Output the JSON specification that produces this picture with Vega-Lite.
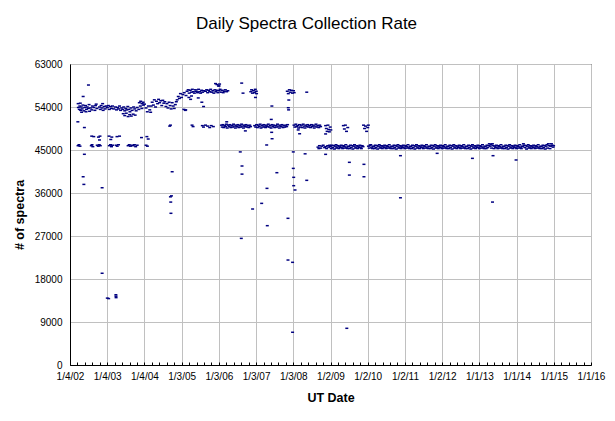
{
"$schema": "https://vega.github.io/schema/vega-lite/v6.json",
"width": 521,
"height": 301,
"autosize": {"type": "none"},
"padding": {"left": 70, "top": 64, "right": 24, "bottom": 56},
"background": "white",
"config": {"font": "Liberation Sans", "view": {"stroke": "black", "strokeWidth": 1}},
"title": {"text": "Daily Spectra Collection Rate", "fontSize": 17, "fontWeight": "normal", "font": "Liberation Sans", "color": "black", "offset": 26, "anchor": "middle", "frame": "group", "dx": -24},
"data": {"values": [
{"d":"2002-03-22","n":50900},{"d":"2002-03-24","n":45900},{"d":"2002-03-25","n":54700},{"d":"2002-03-27","n":53900},{"d":"2002-04-02","n":46100},{"d":"2002-04-05","n":53500},{"d":"2002-04-10","n":54200},{"d":"2002-04-12","n":45800},{"d":"2002-04-15","n":54800},{"d":"2002-04-18","n":53300},{"d":"2002-04-25","n":54000},{"d":"2002-04-28","n":52900},{"d":"2002-05-03","n":53600},{"d":"2002-05-10","n":54400},{"d":"2002-05-13","n":56200},{"d":"2002-05-13","n":39400},{"d":"2002-05-20","n":53200},{"d":"2002-05-20","n":37800},{"d":"2002-05-25","n":49700},{"d":"2002-05-25","n":44100},{"d":"2002-05-28","n":53900},{"d":"2002-06-05","n":54300},{"d":"2002-06-10","n":53000},{"d":"2002-06-14","n":53500},{"d":"2002-06-22","n":54000},{"d":"2002-07-02","n":53700},{"d":"2002-07-04","n":58600},{"d":"2002-07-10","n":54500},{"d":"2002-07-15","n":53100},{"d":"2002-07-25","n":53800},{"d":"2002-08-01","n":45900},{"d":"2002-08-05","n":53400},{"d":"2002-08-05","n":47900},{"d":"2002-08-08","n":46100},{"d":"2002-08-12","n":54200},{"d":"2002-08-16","n":45700},{"d":"2002-08-25","n":53900},{"d":"2002-08-25","n":47800},{"d":"2002-09-05","n":53300},{"d":"2002-09-12","n":54300},{"d":"2002-09-18","n":54600},{"d":"2002-09-25","n":53700},{"d":"2002-09-28","n":46000},{"d":"2002-10-08","n":45800},{"d":"2002-10-10","n":47700},{"d":"2002-10-18","n":46100},{"d":"2002-10-20","n":54000},{"d":"2002-10-20","n":47100},{"d":"2002-10-25","n":47900},{"d":"2002-10-28","n":53500},{"d":"2002-10-28","n":45900},{"d":"2002-11-05","n":54300},{"d":"2002-11-15","n":53800},{"d":"2002-11-15","n":37100},{"d":"2002-11-15","n":19200},{"d":"2002-11-20","n":54700},{"d":"2002-11-25","n":53300},{"d":"2002-12-05","n":54100},{"d":"2002-12-15","n":53600},{"d":"2002-12-25","n":54200},
{"d":"2003-01-05","n":53900},{"d":"2003-01-05","n":14000},{"d":"2003-01-15","n":54300},{"d":"2003-01-18","n":13900},{"d":"2003-01-22","n":47900},{"d":"2003-01-25","n":53500},{"d":"2003-01-25","n":45900},{"d":"2003-02-05","n":54100},{"d":"2003-02-05","n":46100},{"d":"2003-02-08","n":47200},{"d":"2003-02-15","n":53700},{"d":"2003-02-15","n":45700},{"d":"2003-02-18","n":47700},{"d":"2003-02-25","n":54200},{"d":"2003-02-25","n":46000},{"d":"2003-03-10","n":53600},{"d":"2003-03-25","n":54000},{"d":"2003-03-30","n":14700},{"d":"2003-03-31","n":14400},{"d":"2003-04-01","n":14100},{"d":"2003-04-01","n":46000},{"d":"2003-04-05","n":53400},{"d":"2003-04-10","n":47800},{"d":"2003-04-12","n":45800},{"d":"2003-04-15","n":53900},{"d":"2003-04-25","n":53600},{"d":"2003-04-25","n":46100},{"d":"2003-05-05","n":54200},{"d":"2003-05-05","n":47900},{"d":"2003-05-15","n":53300},{"d":"2003-05-25","n":53800},{"d":"2003-06-05","n":53500},{"d":"2003-06-10","n":52600},{"d":"2003-06-15","n":54000},{"d":"2003-06-25","n":53200},{"d":"2003-06-25","n":52200},{"d":"2003-07-05","n":53700},{"d":"2003-07-10","n":52700},{"d":"2003-07-15","n":53400},{"d":"2003-07-25","n":54100},{"d":"2003-07-28","n":52000},{"d":"2003-07-28","n":45900},{"d":"2003-08-05","n":53500},{"d":"2003-08-08","n":46100},{"d":"2003-08-12","n":52400},{"d":"2003-08-15","n":53000},{"d":"2003-08-20","n":45800},{"d":"2003-08-25","n":53800},{"d":"2003-08-28","n":52100},{"d":"2003-09-02","n":46000},{"d":"2003-09-05","n":53300},{"d":"2003-09-15","n":52500},{"d":"2003-09-15","n":45900},{"d":"2003-09-20","n":54000},{"d":"2003-09-28","n":46100},{"d":"2003-10-01","n":53600},{"d":"2003-10-05","n":52300},{"d":"2003-10-10","n":45700},{"d":"2003-10-15","n":53200},{"d":"2003-10-25","n":53900},{"d":"2003-10-25","n":46000},{"d":"2003-11-10","n":53500},{"d":"2003-11-15","n":54900},{"d":"2003-11-25","n":54200},{"d":"2003-11-28","n":55200},{"d":"2003-12-06","n":47600},{"d":"2003-12-10","n":53700},{"d":"2003-12-12","n":54700},{"d":"2003-12-22","n":55000},{"d":"2003-12-25","n":54400},
{"d":"2004-01-05","n":54600},{"d":"2004-01-20","n":53800},{"d":"2004-01-20","n":46000},{"d":"2004-01-28","n":47800},{"d":"2004-02-01","n":53000},{"d":"2004-02-02","n":45800},{"d":"2004-02-10","n":47300},{"d":"2004-02-12","n":54200},{"d":"2004-02-25","n":53400},{"d":"2004-03-05","n":52900},{"d":"2004-03-10","n":54200},{"d":"2004-03-20","n":55000},{"d":"2004-04-01","n":54400},{"d":"2004-04-10","n":55500},{"d":"2004-04-22","n":54000},{"d":"2004-05-01","n":55200},{"d":"2004-05-12","n":54700},{"d":"2004-05-22","n":55600},{"d":"2004-06-01","n":54900},{"d":"2004-06-12","n":55300},{"d":"2004-06-22","n":54300},{"d":"2004-07-02","n":55400},{"d":"2004-07-12","n":54800},{"d":"2004-07-22","n":55100},{"d":"2004-08-02","n":54100},{"d":"2004-08-12","n":54700},{"d":"2004-08-22","n":53800},{"d":"2004-09-02","n":55000},{"d":"2004-09-08","n":50000},{"d":"2004-09-12","n":54300},{"d":"2004-09-15","n":50200},{"d":"2004-09-15","n":35200},{"d":"2004-09-18","n":34100},{"d":"2004-09-20","n":31750},{"d":"2004-09-22","n":53600},{"d":"2004-09-25","n":35400},{"d":"2004-10-02","n":54900},{"d":"2004-10-02","n":40450},{"d":"2004-10-12","n":54200},{"d":"2004-10-22","n":53700},{"d":"2004-11-02","n":54500},{"d":"2004-11-12","n":55100},{"d":"2004-11-20","n":55500},{"d":"2004-12-01","n":56200},{"d":"2004-12-12","n":55800},{"d":"2004-12-22","n":56800},
{"d":"2005-01-02","n":56000},{"d":"2005-01-15","n":56600},{"d":"2005-01-25","n":53500},{"d":"2005-01-28","n":57000},{"d":"2005-02-08","n":53300},{"d":"2005-02-12","n":53400},{"d":"2005-02-15","n":56400},{"d":"2005-02-25","n":57300},{"d":"2005-03-08","n":57600},{"d":"2005-03-15","n":56000},{"d":"2005-03-18","n":56900},{"d":"2005-03-28","n":57500},{"d":"2005-04-01","n":55600},{"d":"2005-04-08","n":57100},{"d":"2005-04-10","n":56300},{"d":"2005-04-15","n":50200},{"d":"2005-04-18","n":57700},{"d":"2005-04-25","n":49900},{"d":"2005-04-28","n":57200},{"d":"2005-05-08","n":56900},{"d":"2005-05-18","n":57600},{"d":"2005-05-28","n":57300},{"d":"2005-06-08","n":57000},{"d":"2005-06-15","n":55900},{"d":"2005-06-18","n":57700},{"d":"2005-06-28","n":57200},{"d":"2005-07-08","n":56900},{"d":"2005-07-18","n":57500},{"d":"2005-07-20","n":55000},{"d":"2005-07-25","n":50100},{"d":"2005-07-28","n":57100},{"d":"2005-08-05","n":49800},{"d":"2005-08-06","n":54100},{"d":"2005-08-08","n":57400},{"d":"2005-08-25","n":57300},{"d":"2005-08-25","n":50200},{"d":"2005-09-05","n":57600},{"d":"2005-09-15","n":57000},{"d":"2005-09-15","n":50000},{"d":"2005-09-25","n":57500},{"d":"2005-10-05","n":57200},{"d":"2005-10-05","n":49700},{"d":"2005-10-15","n":57700},{"d":"2005-10-20","n":50100},{"d":"2005-10-25","n":57100},{"d":"2005-11-05","n":57400},{"d":"2005-11-10","n":49900},{"d":"2005-11-15","n":56900},{"d":"2005-11-25","n":57600},{"d":"2005-12-01","n":58900},{"d":"2005-12-05","n":57200},{"d":"2005-12-15","n":57500},{"d":"2005-12-15","n":58700},{"d":"2005-12-25","n":57000},{"d":"2005-12-30","n":58400},
{"d":"2006-01-05","n":57400},{"d":"2006-01-05","n":58400},{"d":"2006-01-10","n":58800},{"d":"2006-01-15","n":57700},{"d":"2006-01-25","n":57100},{"d":"2006-01-28","n":50200},{"d":"2006-02-05","n":57500},{"d":"2006-02-05","n":49800},{"d":"2006-02-12","n":50300},{"d":"2006-02-15","n":57000},{"d":"2006-02-20","n":49700},{"d":"2006-02-25","n":57300},{"d":"2006-03-01","n":50100},{"d":"2006-03-08","n":57600},{"d":"2006-03-10","n":49900},{"d":"2006-03-18","n":50400},{"d":"2006-03-20","n":57200},{"d":"2006-03-21","n":50900},{"d":"2006-03-26","n":49600},{"d":"2006-04-01","n":57400},{"d":"2006-04-05","n":50200},{"d":"2006-04-14","n":49900},{"d":"2006-04-22","n":50300},{"d":"2006-05-01","n":49700},{"d":"2006-05-10","n":50100},{"d":"2006-05-18","n":49800},{"d":"2006-05-27","n":50400},{"d":"2006-06-05","n":50000},{"d":"2006-06-14","n":49600},{"d":"2006-06-22","n":50200},{"d":"2006-07-01","n":49900},{"d":"2006-07-10","n":50300},{"d":"2006-07-18","n":49700},{"d":"2006-07-27","n":50100},{"d":"2006-08-01","n":44600},{"d":"2006-08-05","n":49800},{"d":"2006-08-11","n":26500},{"d":"2006-08-14","n":50400},{"d":"2006-08-15","n":59000},{"d":"2006-08-18","n":41650},{"d":"2006-08-18","n":39950},{"d":"2006-08-22","n":50000},{"d":"2006-08-28","n":56900},{"d":"2006-09-01","n":49600},{"d":"2006-09-10","n":50200},{"d":"2006-09-18","n":49900},{"d":"2006-09-20","n":49000},{"d":"2006-09-27","n":50300},{"d":"2006-10-06","n":49800},{"d":"2006-10-15","n":50100},{"d":"2006-10-24","n":49700},{"d":"2006-11-02","n":50200},{"d":"2006-11-10","n":49900},{"d":"2006-11-12","n":57200},{"d":"2006-11-20","n":57600},{"d":"2006-11-28","n":56900},{"d":"2006-11-30","n":32650},{"d":"2006-12-08","n":57400},{"d":"2006-12-18","n":57000},{"d":"2006-12-20","n":50100},{"d":"2006-12-26","n":57700},{"d":"2006-12-28","n":56000},{"d":"2006-12-30","n":49800},
{"d":"2007-01-05","n":57300},{"d":"2007-01-08","n":56800},{"d":"2007-01-08","n":50300},{"d":"2007-01-16","n":49700},{"d":"2007-01-25","n":50200},{"d":"2007-02-03","n":49900},{"d":"2007-02-12","n":50400},{"d":"2007-02-20","n":49600},{"d":"2007-02-27","n":33830},{"d":"2007-03-01","n":50100},{"d":"2007-03-10","n":49800},{"d":"2007-03-19","n":50300},{"d":"2007-03-28","n":50000},{"d":"2007-04-06","n":49700},{"d":"2007-04-15","n":50200},{"d":"2007-04-17","n":46050},{"d":"2007-04-20","n":36970},{"d":"2007-04-23","n":29160},{"d":"2007-04-24","n":49900},{"d":"2007-05-03","n":50400},{"d":"2007-05-12","n":49800},{"d":"2007-05-21","n":50100},{"d":"2007-05-30","n":49600},{"d":"2007-06-01","n":51400},{"d":"2007-06-05","n":48700},{"d":"2007-06-07","n":54200},{"d":"2007-06-08","n":50300},{"d":"2007-06-09","n":47360},{"d":"2007-06-17","n":49900},{"d":"2007-06-26","n":50200},{"d":"2007-07-05","n":49700},{"d":"2007-07-14","n":50100},{"d":"2007-07-23","n":49800},{"d":"2007-07-26","n":40250},{"d":"2007-08-01","n":50400},{"d":"2007-08-10","n":50000},{"d":"2007-08-19","n":49600},{"d":"2007-08-28","n":50200},{"d":"2007-09-06","n":49900},{"d":"2007-09-15","n":50300},{"d":"2007-09-24","n":49700},{"d":"2007-10-03","n":50100},{"d":"2007-10-12","n":49800},{"d":"2007-10-21","n":50200},{"d":"2007-10-30","n":49900},{"d":"2007-11-05","n":57300},{"d":"2007-11-08","n":50300},{"d":"2007-11-12","n":30700},{"d":"2007-11-12","n":21970},{"d":"2007-11-15","n":56800},{"d":"2007-11-15","n":53850},{"d":"2007-11-18","n":53400},{"d":"2007-11-20","n":55460},{"d":"2007-11-25","n":57600},{"d":"2007-12-05","n":57100},{"d":"2007-12-15","n":57500},{"d":"2007-12-25","n":56900},{"d":"2007-12-27","n":21490},{"d":"2007-12-27","n":6850},
{"d":"2008-01-03","n":44600},{"d":"2008-01-03","n":41150},{"d":"2008-01-05","n":57400},{"d":"2008-01-07","n":39280},{"d":"2008-01-07","n":37530},{"d":"2008-01-10","n":50200},{"d":"2008-01-12","n":57000},{"d":"2008-01-19","n":49800},{"d":"2008-01-20","n":36630},{"d":"2008-01-28","n":50400},{"d":"2008-02-06","n":49900},{"d":"2008-02-15","n":50100},{"d":"2008-02-20","n":49200},{"d":"2008-02-24","n":49600},{"d":"2008-03-04","n":50300},{"d":"2008-03-05","n":48400},{"d":"2008-03-13","n":49800},{"d":"2008-03-22","n":50200},{"d":"2008-03-31","n":49700},{"d":"2008-04-09","n":50400},{"d":"2008-04-18","n":50000},{"d":"2008-04-27","n":49600},{"d":"2008-04-28","n":44200},{"d":"2008-05-06","n":50200},{"d":"2008-05-14","n":57100},{"d":"2008-05-14","n":38650},{"d":"2008-05-15","n":49900},{"d":"2008-05-24","n":50300},{"d":"2008-06-02","n":49800},{"d":"2008-06-11","n":50100},{"d":"2008-06-20","n":49700},{"d":"2008-06-29","n":50300},{"d":"2008-07-08","n":49900},{"d":"2008-07-17","n":50200},{"d":"2008-07-26","n":49600},{"d":"2008-08-04","n":50000},{"d":"2008-08-13","n":50400},{"d":"2008-08-22","n":49800},{"d":"2008-08-31","n":50100},{"d":"2008-09-01","n":45600},{"d":"2008-09-09","n":49700},{"d":"2008-09-10","n":45300},{"d":"2008-09-15","n":45900},{"d":"2008-09-18","n":50200},{"d":"2008-09-27","n":49900},{"d":"2008-09-28","n":45400},{"d":"2008-10-10","n":45800},{"d":"2008-10-22","n":46000},{"d":"2008-11-05","n":45500},{"d":"2008-11-15","n":45700},{"d":"2008-11-15","n":50100},{"d":"2008-11-15","n":48360},{"d":"2008-11-15","n":44090},{"d":"2008-11-22","n":49500},{"d":"2008-11-25","n":45300},{"d":"2008-11-30","n":48900},{"d":"2008-12-05","n":45900},{"d":"2008-12-08","n":50200},{"d":"2008-12-15","n":49300},{"d":"2008-12-15","n":45600},{"d":"2008-12-22","n":48800},{"d":"2008-12-25","n":46000},{"d":"2008-12-30","n":49800},
{"d":"2009-01-01","n":45700},{"d":"2009-01-05","n":49200},{"d":"2009-01-09","n":45300},{"d":"2009-01-17","n":46000},{"d":"2009-01-25","n":45500},{"d":"2009-02-01","n":45900},{"d":"2009-02-09","n":45200},{"d":"2009-02-17","n":45800},{"d":"2009-02-25","n":46100},{"d":"2009-03-01","n":45400},{"d":"2009-03-09","n":45600},{"d":"2009-03-17","n":45900},{"d":"2009-03-25","n":45300},{"d":"2009-04-01","n":45800},{"d":"2009-04-09","n":45500},{"d":"2009-04-17","n":46000},{"d":"2009-04-25","n":45600},{"d":"2009-05-01","n":45300},{"d":"2009-05-08","n":50100},{"d":"2009-05-09","n":45900},{"d":"2009-05-17","n":45700},{"d":"2009-05-18","n":49400},{"d":"2009-05-25","n":45400},{"d":"2009-05-28","n":50200},{"d":"2009-06-01","n":46100},{"d":"2009-06-08","n":48900},{"d":"2009-06-09","n":45600},{"d":"2009-06-11","n":7680},{"d":"2009-06-17","n":45300},{"d":"2009-06-20","n":49700},{"d":"2009-06-25","n":45800},{"d":"2009-07-01","n":45700},{"d":"2009-07-06","n":42420},{"d":"2009-07-06","n":39750},{"d":"2009-07-09","n":45300},{"d":"2009-07-17","n":46000},{"d":"2009-07-25","n":45500},{"d":"2009-08-01","n":45900},{"d":"2009-08-09","n":45200},{"d":"2009-08-17","n":45800},{"d":"2009-08-25","n":46100},{"d":"2009-09-01","n":45400},{"d":"2009-09-09","n":45600},{"d":"2009-09-17","n":45900},{"d":"2009-09-25","n":45300},{"d":"2009-10-01","n":45800},{"d":"2009-10-09","n":45500},{"d":"2009-10-17","n":46000},{"d":"2009-10-25","n":45600},{"d":"2009-11-01","n":45300},{"d":"2009-11-09","n":45900},{"d":"2009-11-17","n":45700},{"d":"2009-11-22","n":50200},{"d":"2009-11-26","n":42000},{"d":"2009-11-26","n":39400},{"d":"2009-12-02","n":49500},{"d":"2009-12-12","n":50000},{"d":"2009-12-22","n":48900},
{"d":"2010-01-02","n":49700},{"d":"2010-01-08","n":50200},{"d":"2010-01-09","n":45800},{"d":"2010-01-17","n":45400},{"d":"2010-01-25","n":46000},{"d":"2010-02-01","n":46100},{"d":"2010-02-09","n":45600},{"d":"2010-02-17","n":45300},{"d":"2010-02-25","n":45800},{"d":"2010-03-01","n":45700},{"d":"2010-03-09","n":45300},{"d":"2010-03-17","n":46000},{"d":"2010-03-25","n":45500},{"d":"2010-04-01","n":45900},{"d":"2010-04-09","n":45200},{"d":"2010-04-17","n":45800},{"d":"2010-04-25","n":46100},{"d":"2010-05-01","n":45400},{"d":"2010-05-09","n":45600},{"d":"2010-05-17","n":45900},{"d":"2010-05-25","n":45300},{"d":"2010-06-01","n":45800},{"d":"2010-06-09","n":45500},{"d":"2010-06-17","n":46000},{"d":"2010-06-25","n":45600},{"d":"2010-07-01","n":45300},{"d":"2010-07-09","n":45900},{"d":"2010-07-17","n":45700},{"d":"2010-07-25","n":45400},{"d":"2010-08-01","n":46100},{"d":"2010-08-09","n":45600},{"d":"2010-08-17","n":45300},{"d":"2010-08-25","n":45800},{"d":"2010-09-01","n":45700},{"d":"2010-09-09","n":45300},{"d":"2010-09-17","n":46000},{"d":"2010-09-25","n":45500},{"d":"2010-10-01","n":45900},{"d":"2010-10-09","n":45200},{"d":"2010-10-17","n":45800},{"d":"2010-10-25","n":46100},{"d":"2010-11-01","n":45400},{"d":"2010-11-09","n":45600},{"d":"2010-11-17","n":45900},{"d":"2010-11-19","n":43810},{"d":"2010-11-19","n":35000},{"d":"2010-11-25","n":45300},{"d":"2010-12-01","n":45800},{"d":"2010-12-09","n":45500},{"d":"2010-12-17","n":46000},{"d":"2010-12-25","n":45600},
{"d":"2011-01-01","n":45300},{"d":"2011-01-09","n":45900},{"d":"2011-01-17","n":45700},{"d":"2011-01-25","n":45400},{"d":"2011-02-01","n":46100},{"d":"2011-02-09","n":45600},{"d":"2011-02-17","n":45300},{"d":"2011-02-25","n":45800},{"d":"2011-03-01","n":45700},{"d":"2011-03-09","n":45300},{"d":"2011-03-17","n":46000},{"d":"2011-03-25","n":45500},{"d":"2011-04-01","n":45900},{"d":"2011-04-09","n":45200},{"d":"2011-04-17","n":45800},{"d":"2011-04-25","n":46100},{"d":"2011-05-01","n":45400},{"d":"2011-05-09","n":45600},{"d":"2011-05-17","n":45900},{"d":"2011-05-25","n":45300},{"d":"2011-06-01","n":45800},{"d":"2011-06-09","n":45500},{"d":"2011-06-17","n":46000},{"d":"2011-06-25","n":45600},{"d":"2011-07-01","n":45300},{"d":"2011-07-09","n":45900},{"d":"2011-07-17","n":45700},{"d":"2011-07-25","n":45400},{"d":"2011-08-01","n":46100},{"d":"2011-08-09","n":45600},{"d":"2011-08-17","n":45300},{"d":"2011-08-25","n":45800},{"d":"2011-09-01","n":45700},{"d":"2011-09-09","n":45300},{"d":"2011-09-17","n":46000},{"d":"2011-09-25","n":45500},{"d":"2011-10-01","n":45900},{"d":"2011-10-09","n":45200},{"d":"2011-10-17","n":45800},{"d":"2011-10-25","n":46100},{"d":"2011-11-01","n":45400},{"d":"2011-11-09","n":45600},{"d":"2011-11-14","n":44300},{"d":"2011-11-17","n":45900},{"d":"2011-11-25","n":45300},{"d":"2011-12-01","n":45800},{"d":"2011-12-09","n":45500},{"d":"2011-12-17","n":46000},{"d":"2011-12-25","n":45600},
{"d":"2012-01-01","n":45300},{"d":"2012-01-09","n":45900},{"d":"2012-01-17","n":45700},{"d":"2012-01-25","n":45400},{"d":"2012-02-01","n":46100},{"d":"2012-02-09","n":45600},{"d":"2012-02-17","n":45300},{"d":"2012-02-25","n":45800},{"d":"2012-03-01","n":45700},{"d":"2012-03-09","n":45300},{"d":"2012-03-17","n":46000},{"d":"2012-03-25","n":45500},{"d":"2012-04-01","n":45900},{"d":"2012-04-09","n":45200},{"d":"2012-04-17","n":45800},{"d":"2012-04-25","n":46100},{"d":"2012-05-01","n":45400},{"d":"2012-05-09","n":45600},{"d":"2012-05-17","n":45900},{"d":"2012-05-25","n":45300},{"d":"2012-06-01","n":45800},{"d":"2012-06-09","n":45500},{"d":"2012-06-17","n":46000},{"d":"2012-06-25","n":45600},{"d":"2012-07-01","n":45300},{"d":"2012-07-09","n":45900},{"d":"2012-07-17","n":45700},{"d":"2012-07-25","n":45400},{"d":"2012-08-01","n":46100},{"d":"2012-08-09","n":45600},{"d":"2012-08-17","n":45300},{"d":"2012-08-25","n":45800},{"d":"2012-09-01","n":45700},{"d":"2012-09-09","n":45300},{"d":"2012-09-17","n":46000},{"d":"2012-09-25","n":45500},{"d":"2012-10-01","n":45900},{"d":"2012-10-09","n":45200},{"d":"2012-10-17","n":45800},{"d":"2012-10-25","n":46100},{"d":"2012-10-25","n":43250},{"d":"2012-11-01","n":45400},{"d":"2012-11-09","n":45600},{"d":"2012-11-17","n":45900},{"d":"2012-11-25","n":45300},{"d":"2012-12-01","n":45800},{"d":"2012-12-09","n":45500},{"d":"2012-12-17","n":46000},{"d":"2012-12-25","n":45600},
{"d":"2013-01-01","n":45300},{"d":"2013-01-09","n":45900},{"d":"2013-01-17","n":45700},{"d":"2013-01-25","n":45400},{"d":"2013-02-01","n":46100},{"d":"2013-02-09","n":45600},{"d":"2013-02-17","n":45300},{"d":"2013-02-25","n":45800},{"d":"2013-03-01","n":45700},{"d":"2013-03-09","n":45300},{"d":"2013-03-17","n":46000},{"d":"2013-03-25","n":45500},{"d":"2013-04-01","n":45900},{"d":"2013-04-09","n":46300},{"d":"2013-04-17","n":45800},{"d":"2013-04-25","n":46100},{"d":"2013-05-01","n":45400},{"d":"2013-05-09","n":46300},{"d":"2013-05-10","n":34100},{"d":"2013-05-15","n":43810},{"d":"2013-05-17","n":45900},{"d":"2013-05-25","n":45300},{"d":"2013-06-01","n":45800},{"d":"2013-06-09","n":45500},{"d":"2013-06-17","n":46000},{"d":"2013-06-25","n":45600},{"d":"2013-07-01","n":45300},{"d":"2013-07-09","n":45900},{"d":"2013-07-17","n":45700},{"d":"2013-07-25","n":45400},{"d":"2013-08-01","n":46100},{"d":"2013-08-09","n":45600},{"d":"2013-08-17","n":45300},{"d":"2013-08-25","n":45800},{"d":"2013-09-01","n":45700},{"d":"2013-09-09","n":45300},{"d":"2013-09-17","n":46000},{"d":"2013-09-25","n":45500},{"d":"2013-10-01","n":45900},{"d":"2013-10-09","n":45200},{"d":"2013-10-17","n":45800},{"d":"2013-10-25","n":46100},{"d":"2013-11-01","n":45400},{"d":"2013-11-09","n":45600},{"d":"2013-11-17","n":45900},{"d":"2013-11-25","n":45300},{"d":"2013-12-01","n":45800},{"d":"2013-12-09","n":45500},{"d":"2013-12-17","n":46000},{"d":"2013-12-25","n":45600},{"d":"2013-12-27","n":42910},
{"d":"2014-01-01","n":45300},{"d":"2014-01-09","n":45900},{"d":"2014-01-17","n":45700},{"d":"2014-01-25","n":45400},{"d":"2014-02-01","n":46100},{"d":"2014-02-09","n":45600},{"d":"2014-02-17","n":45300},{"d":"2014-02-25","n":45800},{"d":"2014-03-01","n":45700},{"d":"2014-03-09","n":46300},{"d":"2014-03-17","n":46000},{"d":"2014-03-25","n":45500},{"d":"2014-04-01","n":45900},{"d":"2014-04-09","n":45200},{"d":"2014-04-17","n":45800},{"d":"2014-04-25","n":46100},{"d":"2014-05-01","n":45400},{"d":"2014-05-09","n":45600},{"d":"2014-05-17","n":45900},{"d":"2014-05-25","n":45300},{"d":"2014-06-01","n":45800},{"d":"2014-06-09","n":45500},{"d":"2014-06-17","n":46000},{"d":"2014-06-25","n":45600},{"d":"2014-07-01","n":45300},{"d":"2014-07-09","n":45900},{"d":"2014-07-17","n":45700},{"d":"2014-07-25","n":45400},{"d":"2014-08-01","n":46100},{"d":"2014-08-09","n":45600},{"d":"2014-08-17","n":45300},{"d":"2014-08-25","n":45800},{"d":"2014-09-01","n":45700},{"d":"2014-09-09","n":45300},{"d":"2014-09-17","n":46000},{"d":"2014-09-25","n":45500},{"d":"2014-10-01","n":45900},{"d":"2014-10-09","n":45200},{"d":"2014-10-17","n":45800},{"d":"2014-10-25","n":46100},{"d":"2014-11-01","n":45400},{"d":"2014-11-09","n":46300},{"d":"2014-11-17","n":45900},{"d":"2014-11-25","n":45300},{"d":"2014-12-01","n":45800},{"d":"2014-12-09","n":46300},{"d":"2014-12-17","n":46000},{"d":"2014-12-25","n":45600},{"d":"2014-12-30","n":45900}
]},
"mark": {"type": "point", "shape": "M-1,-0.5H1V0.5H-1Z", "size": 9, "filled": true, "color": "#000080", "opacity": 1, "strokeWidth": 0},
"encoding": {
"x": {"field": "d", "type": "temporal",
 "scale": {"type": "utc", "domain": [1010102400000, 1451606400000], "nice": false},
 "axis": {"title": "UT Date",
  "values": [1010102400000,1016409600000,1022716800000,1029024000000,1035331200000,1041638400000,1047945600000,1054252800000,1060560000000,1066867200000,1073174400000,1079481600000,1085788800000,1092096000000,1098403200000,1104710400000,1111017600000,1117324800000,1123632000000,1129939200000,1136246400000,1142553600000,1148860800000,1155168000000,1161475200000,1167782400000,1174089600000,1180396800000,1186704000000,1193011200000,1199318400000,1205625600000,1211932800000,1218240000000,1224547200000,1230854400000,1237161600000,1243468800000,1249776000000,1256083200000,1262390400000,1268697600000,1275004800000,1281312000000,1287619200000,1293926400000,1300233600000,1306540800000,1312848000000,1319155200000,1325462400000,1331769600000,1338076800000,1344384000000,1350691200000,1356998400000,1363305600000,1369612800000,1375920000000,1382227200000,1388534400000,1394841600000,1401148800000,1407456000000,1413763200000,1420070400000,1426377600000,1432684800000,1438992000000,1445299200000,1451606400000],
  "labelExpr": "abs((datum.value - 1010102400000) / 31536000000 - round((datum.value - 1010102400000) / 31536000000)) < 0.01 ? utcFormat(datum.value, '%-m/%-d/%y') : ''",
  "labelOverlap": false, "labelAlign": "center", "labelFlush": false, "labelFontSize": 10, "labelColor": "black", "labelPadding": 9, "labelFont": "Liberation Sans",
  "grid": true, "gridColor": "#c0c0c0",
  "gridOpacity": {"condition": {"test": "abs((datum.value - 1010102400000) / 31536000000 - round((datum.value - 1010102400000) / 31536000000)) < 0.01", "value": 1}, "value": 0},
  "domainColor": "black", "tickColor": "black", "tickSize": -3,
  "titleFontSize": 12.5, "titleFontWeight": "bold", "titleColor": "black", "titlePadding": 10, "titleFont": "Liberation Sans"}},
"y": {"field": "n", "type": "quantitative",
 "scale": {"domain": [0, 63000], "nice": false},
 "axis": {"title": "# of spectra", "values": [0,9000,18000,27000,36000,45000,54000,63000], "format": "d", "ticks": false,
  "labelPadding": 8, "labelFontSize": 10, "labelColor": "black", "labelFont": "Liberation Sans",
  "grid": true, "gridColor": "#c0c0c0", "domainColor": "black",
  "titleFontSize": 12.5, "titleFontWeight": "bold", "titleColor": "black", "titlePadding": 8, "titleFont": "Liberation Sans"}}
}
}
